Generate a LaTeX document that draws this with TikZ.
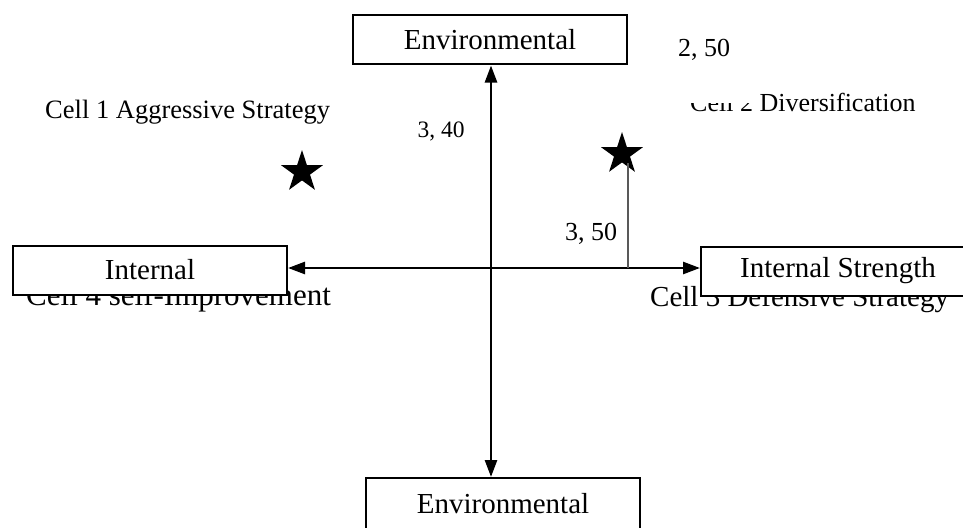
\documentclass[tikz,border=0pt]{standalone}
\usepackage{fontspec}
\setmainfont{Liberation Serif}
\usetikzlibrary{arrows.meta,shapes.geometric}

\tikzset{
    box/.style={draw, line width=2pt, fill=white, minimum width=274pt, minimum height=49pt, inner sep=0pt, font=\fontsize{29}{32}\selectfont},
    lbl/.style={inner sep=0pt, font=\fontsize{26}{30}\selectfont},
    big/.style={inner sep=0pt, font=\fontsize{31}{34}\selectfont},
    axis/.style={line width=2.6pt, {Triangle[length=17pt,width=12pt]}-{Triangle[length=17pt,width=12pt]}},
    starmark/.style={star, star points=5, star point ratio=2.618, fill=black, minimum size=44pt, inner sep=0pt}
}

\begin{document}
\begin{tikzpicture}[x=1pt,y=-1pt]
    \useasboundingbox (0,0) rectangle (963,527);

    \node[big, anchor=base west] (cell4) at (26,305) {Cell 4 self-Improvement};
    \node[big, anchor=base west, font=\fontsize{29}{32}\selectfont] (cell3) at (650,306) {Cell 3 Defensive Strategy};
    \node[lbl, anchor=base west, font=\fontsize{26.5}{30}\selectfont] (cell1) at (45,118) {Cell 1 Aggressive Strategy};
    \node[lbl, anchor=base west] (cell2) at (690,111) {Cell 2 Diversification};

    \node[lbl, fill=white, minimum width=102pt, minimum height=106pt] (val250) at (704,50) {2, 50};
    \node[lbl, anchor=base, font=\fontsize{23.5}{27}\selectfont] (val340) at (441,137) {3, 40};
    \node[lbl, anchor=base] (val350) at (591,240) {3, 50};

    \node[box] (envtop) at (490,40) {Environmental};
    \node[box, minimum height=52pt] (envbot) at (503,504) {Environmental};
    \node[box] (intl) at (150,270) {Internal};
    \node[box] (ints) at (838,271) {Internal Strength};

    \coordinate (o) at (491,268);
    \draw[axis] (envtop.south -| o) -- (envbot.north -| o);
    \draw[axis] (intl.east |- o) -- (ints.west |- o);

    \node[starmark] (star1) at (302,172) {};
    \node[starmark] (star2) at (622,154) {};
    \coordinate (foot) at (628,268);
    \draw[line width=1.4pt, black!65] (foot) -- (foot |- star2.south);
\end{tikzpicture}
\end{document}
